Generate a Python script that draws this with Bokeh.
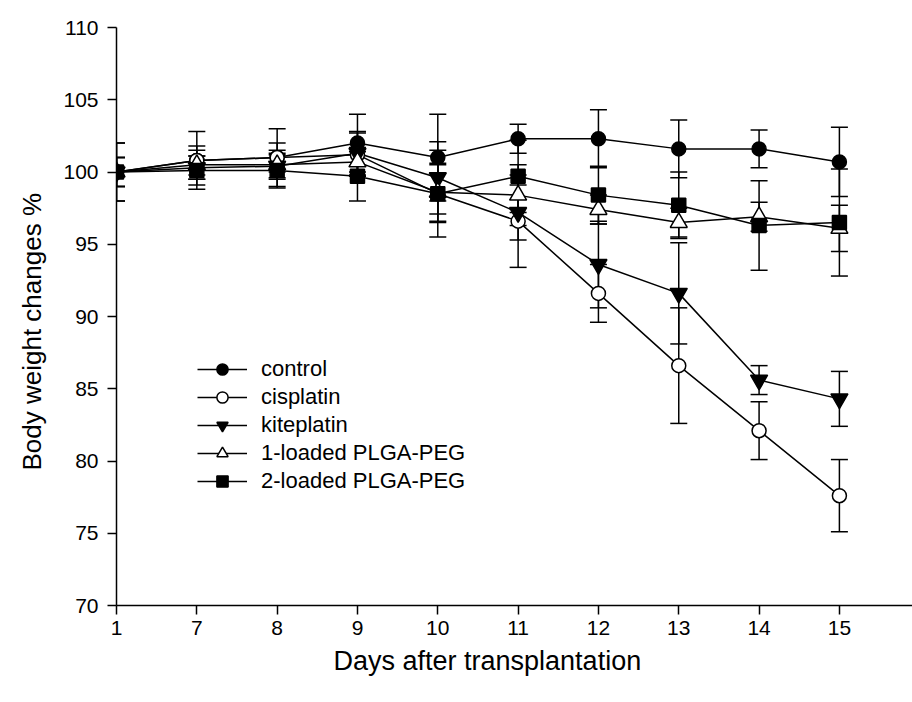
from bokeh.plotting import figure
from bokeh.models import (Range1d, FixedTicker, Whisker, TeeHead, ColumnDataSource,
                          Legend, LegendItem, Title)
from bokeh.embed import file_html
from bokeh.resources import INLINE

days = ["1", "7", "8", "9", "10", "11", "12", "13", "14", "15"]
y_ticks = [70, 75, 80, 85, 90, 95, 100, 105, 110]

control = [100.0, 100.8, 101.0, 102.0, 101.0, 102.3, 102.3, 101.6, 101.6, 100.7]
control_err = [2.0, 2.0, 2.0, 2.0, 3.0, 1.0, 2.0, 2.0, 1.3, 2.4]

cisplatin = [100.0, 100.8, 101.0, 101.2, 98.5, 96.6, 91.6, 86.6, 82.1, 77.6]
cisplatin_err = [1.0, 1.0, 1.0, 1.5, 3.0, 3.2, 2.0, 4.0, 2.0, 2.5]

kiteplatin = [100.0, 100.3, 100.4, 101.3, 99.6, 97.2, 93.6, 91.6, 85.6, 84.3]
kiteplatin_err = [1.0, 0.8, 0.8, 1.5, 2.5, 1.9, 3.0, 3.5, 1.0, 1.9]

plga1 = [100.0, 100.5, 100.5, 100.7, 98.6, 98.4, 97.4, 96.5, 96.9, 96.1]
plga1_err = [1.0, 1.0, 1.0, 1.0, 2.0, 2.1, 1.0, 1.0, 1.0, 1.6]

plga2 = [100.0, 100.1, 100.1, 99.7, 98.5, 99.7, 98.4, 97.7, 96.3, 96.5]
plga2_err = [2.0, 1.0, 1.2, 1.7, 2.0, 2.5, 2.0, 2.3, 3.1, 3.7]

FONT = "Liberation Sans"
xs = list(range(len(days)))

p = figure(width=912, height=690, output_backend="svg", toolbar_location=None,
           x_range=Range1d(0, 9.91), y_range=Range1d(70, 110),
           min_border_left=116, min_border_right=0, min_border_top=27,
           min_border_bottom=85)
p.outline_line_color = None
p.grid.visible = False
p.background_fill_color = "white"

p.xaxis.ticker = FixedTicker(ticks=xs)
p.xaxis.major_label_overrides = {i: d for i, d in enumerate(days)}
p.yaxis.ticker = FixedTicker(ticks=y_ticks)
for ax in (p.xaxis, p.yaxis):
    ax.axis_line_width = 1.5
    ax.axis_line_color = "black"
    ax.major_tick_line_width = 1.5
    ax.major_tick_line_color = "black"
    ax.major_tick_out = 9
    ax.major_tick_in = 0
    ax.minor_tick_line_color = None
    ax.major_label_text_font = FONT
    ax.major_label_text_font_size = "21px"
    ax.major_label_text_color = "black"
p.xaxis.major_label_standoff = 6
p.yaxis.major_label_standoff = 9

# axis titles
p.add_layout(Title(text="Days after transplantation", align="left", offset=217,
                   vertical_align="middle", standoff=14, text_font=FONT,
                   text_font_size="27px", text_font_style="normal",
                   text_color="black"), "below")
p.add_layout(Title(text="Body weight changes %", align="left", offset=135,
                   vertical_align="middle", standoff=26, text_font=FONT,
                   text_font_size="26px", text_font_style="normal",
                   text_color="black"), "left")

series = [
    ("control", control, control_err, "circle", "black", 14),
    ("cisplatin", cisplatin, cisplatin_err, "circle", "white", 14),
    ("kiteplatin", kiteplatin, kiteplatin_err, "inverted_triangle", "black", 17),
    ("1-loaded PLGA-PEG", plga1, plga1_err, "triangle", "white", 17),
    ("2-loaded PLGA-PEG", plga2, plga2_err, "square", "black", 14),
]

items = []
for name, vals, errs, marker, fill, size in series:
    src = ColumnDataSource(dict(
        x=xs, y=vals,
        upper=[v + e for v, e in zip(vals, errs)],
        lower=[v - e for v, e in zip(vals, errs)]))
    w = Whisker(base="x", upper="upper", lower="lower", source=src,
                line_color="black", line_width=1.5,
                upper_head=TeeHead(size=17, line_width=1.5, line_color="black"),
                lower_head=TeeHead(size=17, line_width=1.5, line_color="black"))
    p.add_layout(w)
    lr = p.line("x", "y", source=src, line_color="black", line_width=1.5)
    items.append((name, lr, src, marker, fill, size))

marker_rs = {}
for name, lr, src, marker, fill, size in items:
    mr = p.scatter("x", "y", source=src, marker=marker, size=size,
                   fill_color=fill, line_color="black", line_width=1.5)
    marker_rs[name] = mr

legend = Legend(items=[LegendItem(label=name, renderers=[lr, marker_rs[name]])
                       for name, lr, *_ in items],
                location=(81, 110), glyph_width=50, glyph_height=28,
                label_height=28, spacing=0, padding=0, margin=0,
                label_standoff=14, label_text_font=FONT,
                label_text_font_size="22px", label_text_color="black",
                border_line_alpha=0, background_fill_alpha=0)
p.add_layout(legend)

open("out.html", "w").write(file_html(p, INLINE))
